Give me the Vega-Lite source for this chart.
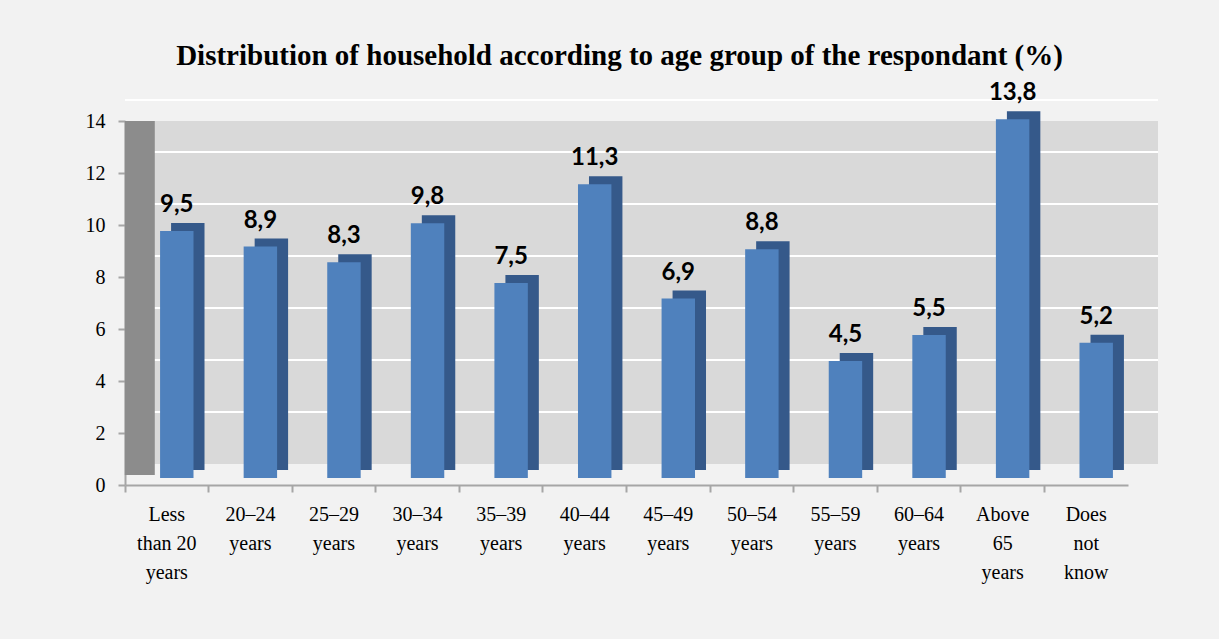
{
  "$schema": "https://vega.github.io/schema/vega-lite/v6.json",
  "autosize": "none",
  "width": 1003,
  "height": 364,
  "padding": {"left": 125, "top": 121, "right": 91, "bottom": 154},
  "background": "#f2f2f2",
  "config": {
    "locale": {"number": {"decimal": ",", "thousands": ".", "grouping": [3], "currency": ["", ""]}},
    "view": {"fill": null, "stroke": null}
  },
  "title": {
    "text": "Distribution of household according to age group of the respondant (%)",
    "font": "Liberation Serif",
    "fontSize": 29,
    "fontWeight": "bold",
    "color": "#000000",
    "anchor": "middle",
    "dx": -7,
    "offset": 10
  },
  "datasets": {
    "ages": [
      {"age": "Less\nthan 20\nyears", "pct": 9.5},
      {"age": "20–24\nyears", "pct": 8.9},
      {"age": "25–29\nyears", "pct": 8.3},
      {"age": "30–34\nyears", "pct": 9.8},
      {"age": "35–39\nyears", "pct": 7.5},
      {"age": "40–44\nyears", "pct": 11.3},
      {"age": "45–49\nyears", "pct": 6.9},
      {"age": "50–54\nyears", "pct": 8.8},
      {"age": "55–59\nyears", "pct": 4.5},
      {"age": "60–64\nyears", "pct": 5.5},
      {"age": "Above\n65\nyears", "pct": 13.8},
      {"age": "Does\nnot\nknow", "pct": 5.2}
    ],
    "gridlines": [
      {"v": 2}, {"v": 4}, {"v": 6}, {"v": 8}, {"v": 10}, {"v": 12}, {"v": 14}
    ],
    "wall": [{"lo": 0, "hi": 14}]
  },
  "layer": [
    {
      "data": {"name": "wall"},
      "mark": {"type": "rect", "color": "#d9d9d9", "xOffset": 30, "yOffset": -21},
      "encoding": {
        "y": {
          "field": "lo",
          "type": "quantitative",
          "scale": {"domain": [0, 14], "nice": false},
          "axis": {
            "title": null,
            "values": [0, 2, 4, 6, 8, 10, 12, 14],
            "format": "d",
            "labelFont": "Liberation Serif",
            "labelFontSize": 20,
            "labelColor": "#000000",
            "labelPadding": 13,
            "domainColor": "#a6a6a6",
            "domainWidth": 2,
            "tickColor": "#a6a6a6",
            "tickWidth": 2,
            "tickSize": 7,
            "grid": false
          }
        },
        "y2": {"field": "hi"}
      }
    },
    {
      "data": {"name": "gridlines"},
      "mark": {"type": "rule", "color": "#ffffff", "strokeWidth": 2, "xOffset": 30, "yOffset": -21},
      "encoding": {
        "y": {"field": "v", "type": "quantitative"}
      }
    },
    {
      "data": {"name": "wall"},
      "mark": {"type": "rect", "color": "#8c8c8c", "width": 30, "xOffset": -27, "yOffset": -10},
      "encoding": {
        "x": {"datum": "Less\nthan 20\nyears", "type": "nominal"},
        "y": {"field": "lo", "type": "quantitative"},
        "y2": {"field": "hi"}
      }
    },
    {
      "data": {"name": "ages"},
      "mark": {"type": "bar", "width": {"band": 0.4}, "color": "#35598a", "xOffset": 21, "yOffset": -15},
      "encoding": {
        "x": {
          "field": "age",
          "type": "nominal",
          "sort": null,
          "scale": {"paddingInner": 0, "paddingOuter": 0},
          "axis": {
            "title": null,
            "labelAngle": 0,
            "labelAlign": "center",
            "labelExpr": "split(datum.label, '\\n')",
            "labelFont": "Liberation Serif",
            "labelFontSize": 20,
            "labelLineHeight": 29,
            "labelColor": "#000000",
            "labelPadding": 12,
            "labelBaseline": "top",
            "bandPosition": 0,
            "domainColor": "#a6a6a6",
            "domainWidth": 2,
            "tickColor": "#a6a6a6",
            "tickWidth": 2,
            "tickSize": 7,
            "grid": false
          }
        },
        "y": {"field": "pct", "type": "quantitative"}
      }
    },
    {
      "data": {"name": "ages"},
      "mark": {"type": "bar", "width": {"band": 0.4}, "color": "#4f81bd", "xOffset": 10, "yOffset": -7},
      "encoding": {
        "x": {"field": "age", "type": "nominal", "sort": null},
        "y": {"field": "pct", "type": "quantitative"}
      }
    },
    {
      "data": {"name": "ages"},
      "mark": {"type": "text", "font": "Lato", "fontWeight": "bold", "fontSize": 24, "color": "#000000", "baseline": "bottom", "dy": -21, "dx": 10},
      "encoding": {
        "x": {"field": "age", "type": "nominal", "sort": null},
        "y": {"field": "pct", "type": "quantitative"},
        "text": {"field": "pct", "type": "quantitative", "format": ".1f"}
      }
    }
  ]
}
